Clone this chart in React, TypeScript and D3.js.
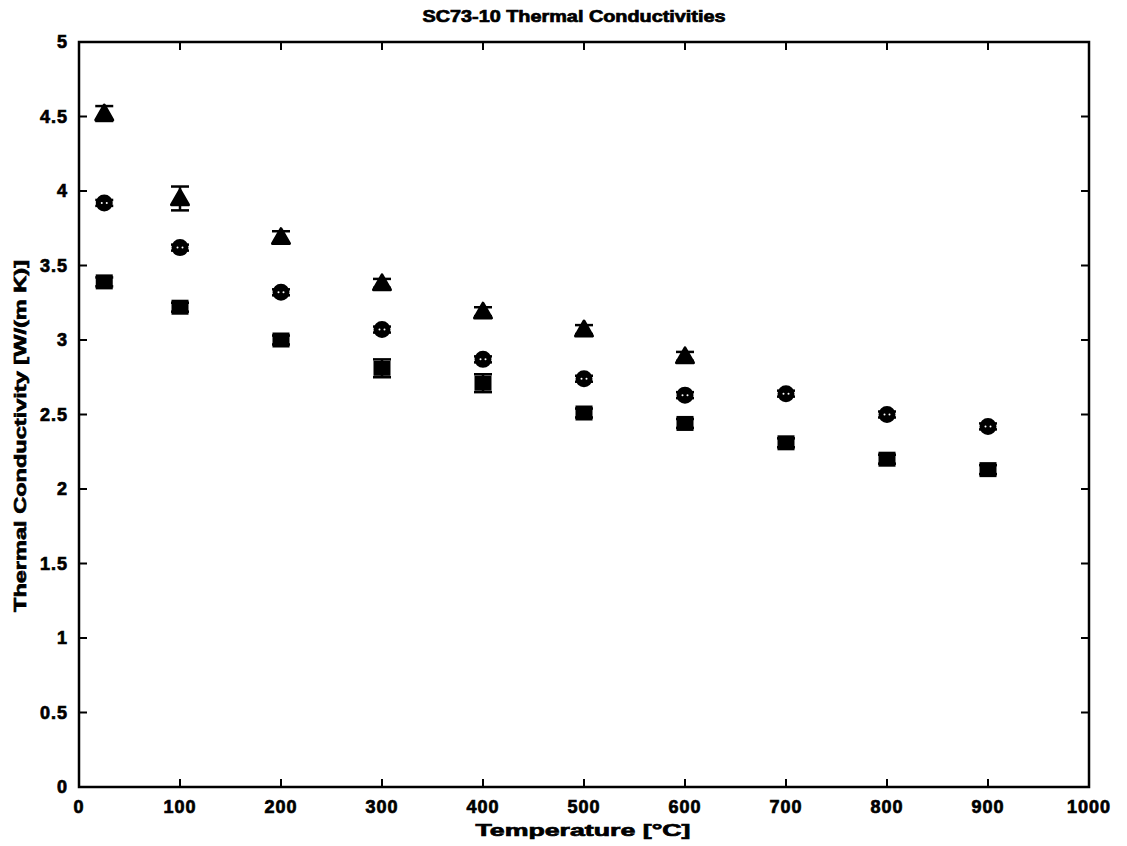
import React from "react";
import * as d3 from "d3";

const temps = [25, 100, 200, 300, 400, 500, 600, 700, 800, 900];
const triTemps = [25, 100, 200, 300, 400, 500, 600];
const triVals = [4.52, 3.95, 3.69, 3.38, 3.19, 3.07, 2.89];
const triErr = [0.05, 0.08, 0.04, 0.03, 0.03, 0.03, 0.03];
const circVals = [3.92, 3.62, 3.32, 3.07, 2.87, 2.74, 2.63, 2.64, 2.5, 2.42];
const circErr = [0.02, 0.02, 0.02, 0.02, 0.02, 0.02, 0.02, 0.02, 0.02, 0.02];
const sqVals = [3.39, 3.22, 3.0, 2.81, 2.71, 2.51, 2.44, 2.31, 2.2, 2.13];
const sqErr = [0.03, 0.03, 0.03, 0.06, 0.06, 0.03, 0.03, 0.03, 0.03, 0.03];
const xTicks = [0, 100, 200, 300, 400, 500, 600, 700, 800, 900, 1000];
const yTicks = [0, 0.5, 1, 1.5, 2, 2.5, 3, 3.5, 4, 4.5, 5];

const L = 79, R = 1089, T = 42, B = 787;

export default function App() {
  const x = d3.scaleLinear().domain([0, 1000]).range([L, R]);
  const y = d3.scaleLinear().domain([0, 5]).range([B, T]);
  const font = "'Liberation Sans', Arial, sans-serif";
  const tick = 8;
  const heavy = { stroke: "#000", strokeWidth: 0.7 };

  const errBar = (cx: number, v: number, e: number, key: string) => (
    <g key={key} stroke="#000" strokeWidth={2.5}>
      <line x1={cx} x2={cx} y1={y(v - e)} y2={y(v + e)} />
      <line x1={cx - 9} x2={cx + 9} y1={y(v + e)} y2={y(v + e)} />
      <line x1={cx - 9} x2={cx + 9} y1={y(v - e)} y2={y(v - e)} />
    </g>
  );

  return (
    <svg width={1127} height={846} style={{ position: "absolute", left: 0, top: 0, background: "#fff" }}>
      <rect x={0} y={0} width={1127} height={846} fill="#fff" />
      <text x={574} y={22} textAnchor="middle" fontFamily={font} fontWeight="bold" fontSize={16} textLength={303} lengthAdjust="spacingAndGlyphs" {...heavy}>
        SC73-10 Thermal Conductivities
      </text>
      <rect x={L} y={T} width={R - L} height={B - T} fill="none" stroke="#000" strokeWidth={2.5} />
      {xTicks.map((t) => (
        <g key={"xt" + t}>
          <line x1={x(t)} x2={x(t)} y1={B} y2={B - tick} stroke="#000" strokeWidth={2} />
          <line x1={x(t)} x2={x(t)} y1={T} y2={T + tick} stroke="#000" strokeWidth={2} />
          <text x={x(t)} y={813} textAnchor="middle" fontFamily={font} fontWeight="bold" fontSize={18} letterSpacing={1} {...heavy}>
            {t}
          </text>
        </g>
      ))}
      {yTicks.map((t) => (
        <g key={"yt" + t}>
          <line x1={L} x2={L + tick} y1={y(t)} y2={y(t)} stroke="#000" strokeWidth={2} />
          <line x1={R} x2={R - tick} y1={y(t)} y2={y(t)} stroke="#000" strokeWidth={2} />
          <text x={68} y={y(t) + 6} textAnchor="end" fontFamily={font} fontWeight="bold" fontSize={18} letterSpacing={1} {...heavy}>
            {t}
          </text>
        </g>
      ))}
      <text x={583} y={836} textAnchor="middle" fontFamily={font} fontWeight="bold" fontSize={17} textLength={215} lengthAdjust="spacingAndGlyphs" {...heavy}>
        Temperature [°C]
      </text>
      <text transform={`translate(26,436) rotate(-90)`} textAnchor="middle" fontFamily={font} fontWeight="bold" fontSize={17} textLength={352} lengthAdjust="spacingAndGlyphs" {...heavy}>
        Thermal Conductivity [W/(m K)]
      </text>
      {triTemps.map((t, i) => {
        const cx = x(t), cy = y(triVals[i]);
        const s = 8.5;
        return (
          <g key={"tri" + i}>
            {errBar(cx, triVals[i], triErr[i], "te" + i)}
            <path d={`M${cx},${cy - s} L${cx + s},${cy + s * 0.75} L${cx - s},${cy + s * 0.75} Z`} fill="#000" stroke="#000" strokeWidth={3} strokeLinejoin="round" />
          </g>
        );
      })}
      {temps.map((t, i) => {
        const cx = x(t), cy = y(circVals[i]);
        return (
          <g key={"c" + i}>
            {errBar(cx, circVals[i], circErr[i], "ce" + i)}
            <circle cx={cx} cy={cy} r={7.5} fill="#000" stroke="#000" strokeWidth={2} />
            <circle cx={cx - 2.5} cy={cy} r={1} fill="#fff" />
            <circle cx={cx + 2.5} cy={cy} r={1} fill="#fff" />
          </g>
        );
      })}
      {temps.map((t, i) => {
        const cx = x(t), cy = y(sqVals[i]);
        return (
          <g key={"s" + i}>
            {errBar(cx, sqVals[i], sqErr[i], "se" + i)}
            <rect x={cx - 7.5} y={cy - 6.5} width={15} height={13} fill="#000" stroke="#000" strokeWidth={2} />
          </g>
        );
      })}
    </svg>
  );
}
